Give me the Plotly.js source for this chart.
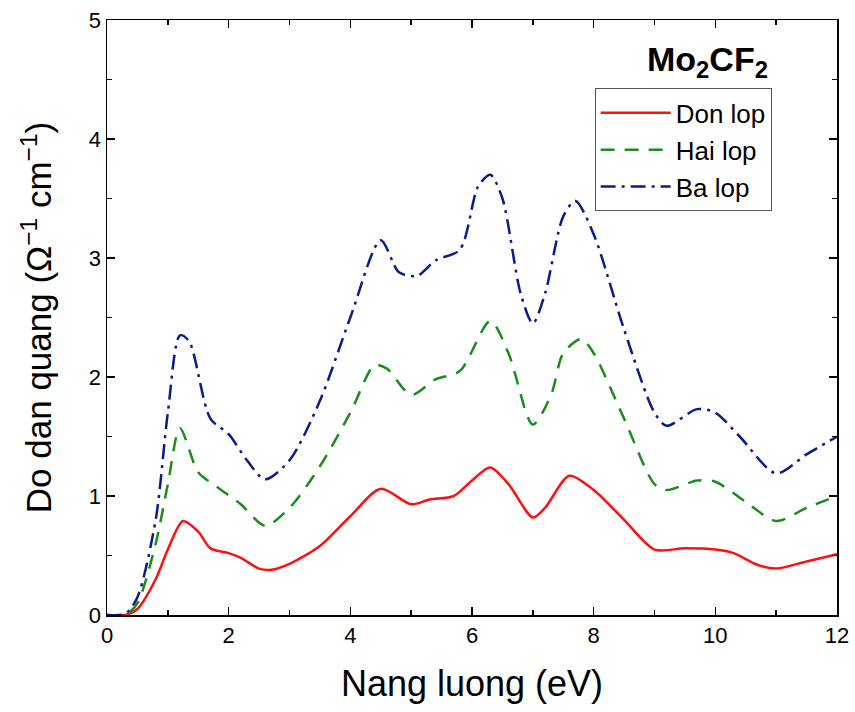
<!DOCTYPE html>
<html>
<head>
<meta charset="utf-8">
<script src="https://cdn.plot.ly/plotly-3.0.1.min.js"></script>
<style>html,body{margin:0;padding:0;background:#fff;}#chart{width:855px;height:712px;}</style>
</head>
<body>
<div id="chart"></div>
<script>
var donX = [0, 0.3, 0.5, 0.8, 1.0, 1.25, 1.5, 1.7, 2.0, 2.2, 2.5, 2.7, 3.0, 3.5, 4.0, 4.5, 5.0, 5.3, 5.7, 6.0, 6.3, 6.6, 7.0, 7.2, 7.6, 8.0, 8.5, 9.0, 9.5, 10.0, 10.3, 10.7, 11.0, 11.5, 12.0];
var donY = [0, 0, 0.05, 0.3, 0.55, 0.79, 0.7, 0.56, 0.52, 0.48, 0.39, 0.38, 0.43, 0.58, 0.83, 1.06, 0.93, 0.97, 1.0, 1.13, 1.24, 1.1, 0.82, 0.9, 1.17, 1.05, 0.8, 0.55, 0.56, 0.55, 0.52, 0.42, 0.39, 0.45, 0.51];

var haiX = [0, 0.3, 0.5, 0.8, 1.0, 1.2, 1.5, 1.8, 2.2, 2.6, 3.0, 3.5, 4.0, 4.4, 4.6, 5.0, 5.4, 5.8, 6.3, 6.6, 7.0, 7.3, 7.5, 7.8, 8.0, 8.5, 9.0, 9.2, 9.7, 10.0, 10.5, 11.0, 11.5, 12.0];
var haiY = [0, 0, 0.1, 0.6, 1.1, 1.57, 1.2, 1.08, 0.93, 0.75, 0.9, 1.25, 1.7, 2.1, 2.07, 1.85, 1.98, 2.05, 2.47, 2.2, 1.6, 1.85, 2.2, 2.32, 2.2, 1.65, 1.1, 1.05, 1.13, 1.12, 0.95, 0.79, 0.9, 1.0];

var baX = [0, 0.3, 0.5, 0.8, 1.0, 1.2, 1.35, 1.7, 2.0, 2.3, 2.6, 3.0, 3.5, 4.0, 4.5, 4.8, 5.1, 5.4, 5.8, 6.1, 6.3, 6.5, 6.8, 7.0, 7.2, 7.5, 7.7, 8.0, 8.5, 9.0, 9.2, 9.7, 10.0, 10.4, 11.0, 11.5, 12.0];
var baY = [0, 0.01, 0.15, 0.8, 1.7, 2.35, 2.3, 1.65, 1.52, 1.3, 1.14, 1.3, 1.8, 2.5, 3.15, 2.88, 2.85, 2.98, 3.07, 3.6, 3.7, 3.5, 2.7, 2.45, 2.7, 3.35, 3.48, 3.2, 2.4, 1.7, 1.59, 1.73, 1.7, 1.5, 1.19, 1.35, 1.5];

var seriesNames = ['Don lop', 'Hai lop', 'Ba lop'];
var xTicks = [0, 2, 4, 6, 8, 10, 12];
var yTicks = [0, 1, 2, 3, 4, 5];

var traces = [
  {x: donX, y: donY, name: seriesNames[0], mode: 'lines', line: {color: '#ff1010', width: 2.5, shape: 'spline', smoothing: 0.8}},
  {x: haiX, y: haiY, name: seriesNames[1], mode: 'lines', line: {color: '#1a8c1a', width: 2.5, dash: '14px,10px', shape: 'spline', smoothing: 0.8}},
  {x: baX, y: baY, name: seriesNames[2], mode: 'lines', line: {color: '#0d1a8c', width: 2.5, dash: '15px,6px,3px,6px', shape: 'spline', smoothing: 0.8}}
];

var axisCommon = {
  showline: true, linecolor: '#000', linewidth: 1.5, mirror: 'allticks',
  ticks: 'inside', ticklen: 8, tickwidth: 1.5, tickcolor: '#000',
  showgrid: false, zeroline: false,
  tickfont: {family: 'Liberation Sans, Arial, sans-serif', size: 22, color: '#000'}
};

var layout = {
  width: 855, height: 712,
  margin: {l: 107, r: 18, t: 20, b: 97},
  paper_bgcolor: '#fff', plot_bgcolor: '#fff',
  font: {family: 'Liberation Sans, Arial, sans-serif', color: '#000'},
  showlegend: true,
  xaxis: Object.assign({}, axisCommon, {
    range: [0, 12], tickvals: xTicks, ticktext: xTicks.map(String),
    minor: {dtick: 1, tick0: 0, ticks: 'inside', ticklen: 5, tickwidth: 1.5, tickcolor: '#000'},
    title: {text: 'Nang luong (eV)', font: {size: 36, color: '#000'}, standoff: 24}
  }),
  yaxis: Object.assign({}, axisCommon, {
    range: [0, 5], tickvals: yTicks, ticktext: yTicks.map(String),
    minor: {dtick: 0.5, tick0: 0, ticks: 'inside', ticklen: 5, tickwidth: 1.5, tickcolor: '#000'},
    title: {text: 'Do dan quang (Ω<sup>−1</sup> cm<sup>−1</sup>)', font: {size: 35, color: '#000'}, standoff: 26}
  }),
  legend: {
    x: 0.668, y: 0.885, xanchor: 'left', yanchor: 'top',
    bgcolor: '#fff', bordercolor: '#555', borderwidth: 1,
    font: {size: 26, color: '#000'}, tracegroupgap: 0, itemwidth: 70
  },
  annotations: [{
    xref: 'paper', yref: 'paper', x: 0.823, y: 0.93, xanchor: 'center', yanchor: 'middle',
    text: '<b>Mo<sub>2</sub>CF<sub>2</sub></b>', showarrow: false,
    font: {size: 34, color: '#000'}
  }]
};

Plotly.newPlot('chart', traces, layout, {displayModeBar: false, staticPlot: true});
</script>
</body>
</html>
